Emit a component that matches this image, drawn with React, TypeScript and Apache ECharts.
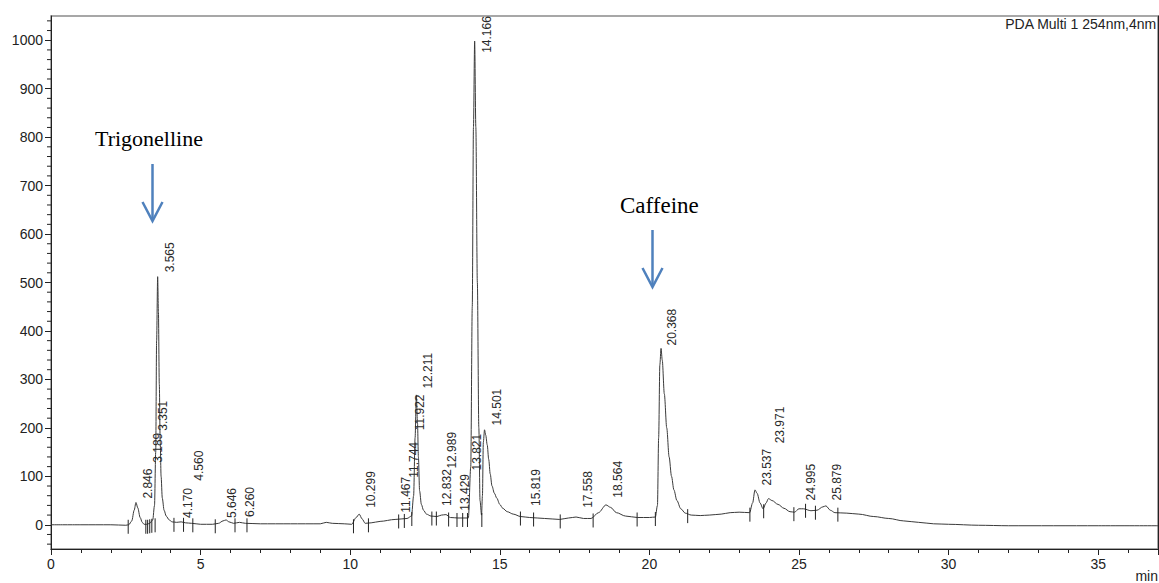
import React, { useEffect, useRef } from "react";
import * as echarts from "echarts";

// Chromatogram trace: time (min) and intensity (mAU)
const curveTimes = [
  0, 1.0, 2.0, 2.5, 2.6, 2.7, 2.78, 2.84, 2.9, 2.98, 3.05, 3.11, 3.2, 3.3, 3.4, 3.46, 3.5, 3.53, 3.565, 3.59,
  3.62, 3.65, 3.68, 3.72, 3.78, 3.85, 3.95, 4.05, 4.2, 4.35, 4.5, 4.7, 5.0, 5.4, 5.6, 5.75, 5.85, 5.95, 6.1, 6.3,
  6.5, 7.0, 8.0, 9.0, 9.2, 9.4, 9.8, 10.05, 10.2, 10.3, 10.4, 10.5, 10.7, 11.0, 11.5, 11.9, 12.05, 12.12, 12.17, 12.21,
  12.25, 12.28, 12.32, 12.38, 12.45, 12.55, 12.7, 12.9, 13.05, 13.2, 13.35, 13.6, 13.95, 14.03, 14.08, 14.12, 14.16, 14.2, 14.25, 14.3,
  14.34, 14.39, 14.42, 14.45, 14.49, 14.53, 14.58, 14.63, 14.68, 14.74, 14.82, 14.9, 15.0, 15.1, 15.25, 15.45, 15.7, 16.0, 16.5, 17.0,
  17.3, 17.55, 17.8, 18.05, 18.3, 18.55, 18.7, 18.9, 19.2, 19.6, 20.0, 20.2, 20.27, 20.31, 20.35, 20.39, 20.43, 20.5, 20.58, 20.66,
  20.74, 20.82, 20.92, 21.05, 21.2, 21.4, 21.7, 22.0, 22.4, 22.7, 23.0, 23.35, 23.45, 23.53, 23.6, 23.7, 23.8, 23.9, 23.98, 24.1,
  24.3, 24.5, 24.7, 24.85, 25.0, 25.15, 25.4, 25.6, 25.8, 25.9, 26.05, 26.2, 26.6, 27.0, 27.5, 28.0, 28.5, 29.0, 29.5, 30.0,
  31.0, 32.0, 35.0, 37.0,
];
const curveValues = [
  0, 0, 0, -1, 0, 8, 30, 46, 35, 15, 5, 1, 1, 3, 10, 40, 150, 380, 512, 440,
  290, 170, 100, 55, 30, 18, 10, 6, 5, 6, 4, 3, 1, 1, 3, 8, 10, 6, 3, 5,
  3, 2, 2, 2, 5, 3, 2, 1, 15, 22, 12, 3, 4, 7, 11, 13, 18, 60, 180, 268,
  210, 140, 70, 42, 30, 22, 18, 17, 20, 21, 15, 14, 14, 120, 450, 820, 998, 820, 500, 200,
  50, 20, 60, 170, 196, 185, 165, 135, 105, 80, 65, 55, 42, 34, 27, 22, 17, 15, 13, 11,
  14, 16, 13, 13, 25, 41, 36, 25, 18, 15, 15, 16, 40, 180, 330, 364, 340, 270, 200, 140,
  100, 72, 50, 33, 24, 20, 19, 20, 22, 25, 26, 25, 45, 72, 65, 45, 33, 45, 54, 50,
  42, 34, 27, 26, 33, 33, 29, 30, 37, 39, 30, 25, 24, 22, 17, 13, 8, 5, 2, 1,
  -1, -2, -2, -2,
];

// Peak retention times and the height at which each label starts
const peakTimes = [
  2.846, 3.189, 3.351, 3.565, 4.17, 4.56, 5.646, 6.26, 10.299, 11.467, 11.744, 11.922, 12.211, 12.832,
  12.989, 13.429, 13.821, 14.166, 14.501, 15.819, 17.558, 18.564, 20.368, 23.537, 23.971, 24.995, 25.879,
];
const peakLabelLevels = [
  54, 128, 194, 521, 14, 91, 14, 16, 35, 25, 97, 195, 281, 39,
  116, 29, 112, 974, 205, 39, 35, 56, 370, 81, 168, 50, 50,
];

// Integration baseline markers
const markerTimes = [
  2.58, 3.17, 3.23, 3.3, 3.37, 3.48, 4.11, 4.43, 4.74, 5.49, 6.15, 6.55, 10.11, 10.61, 11.62, 11.81, 12.06, 12.73, 12.88,
  13.29, 13.57, 13.76, 13.92, 14.4, 15.69, 16.13, 17.02, 18.12, 19.59, 20.2, 21.28, 23.36, 23.82, 24.83, 25.22, 25.55, 26.3,
];
const markerLevels = [
  0, 0, 0, 1, 2, 3, 4, 4, 3, 1, 3, 3, 1, 3, 11, 12, 16, 17, 17,
  15, 14, 14, 14, 14, 17, 15, 11, 13, 15, 16, 22, 25, 32, 26, 33, 29, 25,
];

const yMajor = [0, 100, 200, 300, 400, 500, 600, 700, 800, 900, 1000];
const yMinor = [-40, -20, 20, 40, 60, 80, 120, 140, 160, 180, 220, 240, 260, 280, 320, 340, 360, 380, 420, 440, 460, 480,
  520, 540, 560, 580, 620, 640, 660, 680, 720, 740, 760, 780, 820, 840, 860, 880, 920, 940, 960, 980, 1020, 1040];

const detectorTitle = "PDA Multi 1 254nm,4nm";
const annotations = ["Trigonelline", "Caffeine"];

export default function App() {
  const ref = useRef<HTMLDivElement>(null);
  useEffect(() => {
    const chart = echarts.init(ref.current!, null, { renderer: "svg" });
    const axisColor = "#222";
    const font = "'Liberation Sans', Arial, sans-serif";
    const serif = "'Liberation Serif', 'Times New Roman', serif";
    const blue = "#4f81bd";
    const option: any = {
      animation: false,
      backgroundColor: "#fff",
      grid: { left: 51, right: 1, top: 16, bottom: 34, show: true, borderColor: "#8a8a8a", borderWidth: 1.5 },
      xAxis: {
        type: "value",
        min: 0,
        max: 37,
        interval: 5,
        axisLine: { show: true, onZero: false, lineStyle: { color: axisColor, width: 1 } },
        axisTick: { show: true, length: 6, lineStyle: { color: axisColor } },
        minorTick: { show: true, splitNumber: 5, length: 4, lineStyle: { color: axisColor } },
        splitLine: { show: false },
        minorSplitLine: { show: false },
        axisLabel: { fontSize: 14, color: axisColor, margin: 8, fontFamily: font, showMaxLabel: false, formatter: (v: number) => String(v) },
      },
      yAxis: [
        {
          type: "value",
          min: -50,
          max: 1050,
          position: "left",
          axisLine: { show: true, onZero: false, lineStyle: { color: axisColor, width: 1 } },
          axisTick: { show: true, length: 6, customValues: yMajor, lineStyle: { color: axisColor } },
          axisLabel: {
            show: true,
            customValues: yMajor,
            fontSize: 14,
            color: axisColor,
            margin: 8,
            fontFamily: font,
            formatter: (v: number) => String(v),
          },
          splitLine: { show: false },
        },
        {
          type: "value",
          min: -50,
          max: 1050,
          position: "right",
          offset: 0,
          axisLine: { show: true, onZero: false, lineStyle: { color: axisColor, width: 1 } },
          axisTick: { show: false },
          axisLabel: { show: false },
          splitLine: { show: false },
        },
      ],
      series: [
        {
          type: "line",
          yAxisIndex: 0,
          data: curveTimes.map((t, i) => [t, curveValues[i]]),
          showSymbol: false,
          smooth: 0.3,
          smoothMonotone: "x",
          lineStyle: { color: "#3a3a3a", width: 1 },
          silent: true,
          z: 3,
        },
        {
          // minor ticks of the intensity axis (every 20)
          type: "custom",
          yAxisIndex: 0,
          data: yMinor.map((v) => [0, v]),
          encode: { x: 0, y: 1 },
          clip: false,
          silent: true,
          renderItem: (params: any, api: any) => {
            const p = api.coord([api.value(0), api.value(1)]);
            return {
              type: "line",
              shape: { x1: p[0] - 4, y1: p[1], x2: p[0], y2: p[1] },
              style: { stroke: axisColor, lineWidth: 1 },
            };
          },
          z: 2,
        },
        {
          type: "custom",
          yAxisIndex: 0,
          data: markerTimes.map((t, i) => [t, markerLevels[i]]),
          encode: { x: 0, y: 1 },
          clip: true,
          silent: true,
          renderItem: (params: any, api: any) => {
            const p = api.coord([api.value(0), api.value(1)]);
            return {
              type: "line",
              shape: { x1: p[0], y1: p[1] - 5, x2: p[0], y2: p[1] + 9 },
              style: { stroke: "#222", lineWidth: 1 },
            };
          },
          z: 4,
        },
        {
          type: "custom",
          yAxisIndex: 0,
          data: peakTimes.map((t, i) => [t, peakLabelLevels[i]]),
          encode: { x: 0, y: 1 },
          clip: false,
          silent: true,
          renderItem: (params: any, api: any) => {
            const p = api.coord([api.value(0), api.value(1)]);
            return {
              type: "text",
              x: p[0] + 12,
              y: p[1],
              rotation: Math.PI / 2,
              style: {
                text: peakTimes[params.dataIndex].toFixed(3),
                fill: "#2a2a2a",
                fontSize: 12,
                fontFamily: font,
                align: "left",
                verticalAlign: "middle",
              },
            };
          },
          z: 5,
        },
      ],
      graphic: [
        {
          type: "text",
          right: 2,
          top: 17,
          style: { text: detectorTitle, fill: "#222", fontSize: 14, fontFamily: font },
        },
        {
          type: "text",
          right: 1,
          top: 569,
          style: { text: "min", fill: "#222", fontSize: 14, fontFamily: font },
        },
        {
          type: "text",
          x: 95,
          y: 138,
          style: { text: annotations[0], fill: "#000", fontSize: 22, fontFamily: serif, verticalAlign: "middle" },
        },
        {
          type: "text",
          x: 620,
          y: 205,
          style: { text: annotations[1], fill: "#000", fontSize: 23, fontFamily: serif, verticalAlign: "middle" },
        },
        { type: "line", shape: { x1: 152.5, y1: 164, x2: 152.5, y2: 220 }, style: { stroke: blue, lineWidth: 2.5 } },
        { type: "polyline", shape: { points: [[142.5, 202], [152.5, 221], [162.5, 202]] }, style: { stroke: blue, lineWidth: 2.5, fill: null } },
        { type: "line", shape: { x1: 652.5, y1: 230, x2: 652.5, y2: 286 }, style: { stroke: blue, lineWidth: 2.5 } },
        { type: "polyline", shape: { points: [[642.5, 268], [652.5, 287], [662.5, 268]] }, style: { stroke: blue, lineWidth: 2.5, fill: null } },
      ],
    };
    chart.setOption(option);
    return () => chart.dispose();
  }, []);
  return (
    <div
      ref={ref}
      style={{ position: "fixed", left: 0, top: 0, width: 1159, height: 583, background: "#fff" }}
    />
  );
}
